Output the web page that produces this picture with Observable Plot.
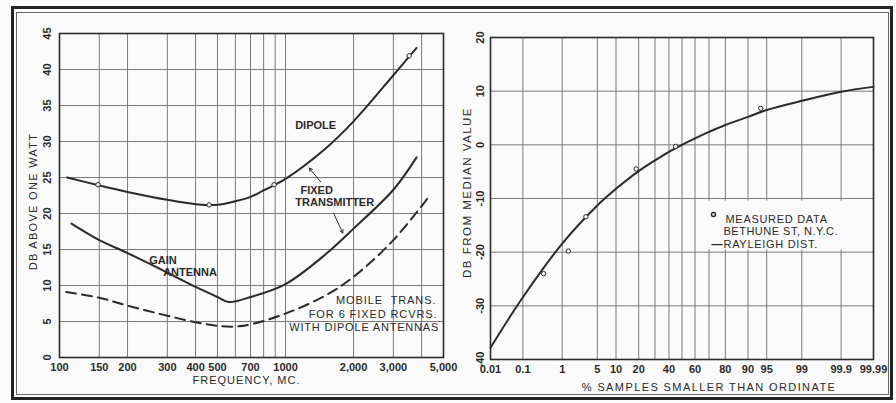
<!DOCTYPE html>
<html><head><meta charset="utf-8">
<script src="https://cdn.jsdelivr.net/npm/d3@7"></script>
<script src="https://cdn.jsdelivr.net/npm/@observablehq/plot@0.6"></script>
<style>
body{margin:0;background:#fff;}
#wrap{position:relative;width:896px;height:403px;background:#fafafa;overflow:hidden;}
.panel{position:absolute;top:0;}
#outer{position:absolute;left:11px;top:6px;width:876px;height:388px;border:3px solid #222;}
#inner{position:absolute;left:16px;top:12px;width:871px;height:381px;border:1px solid #666;}
</style></head><body>
<div id="wrap"><div id="outer"></div><div id="inner"></div>
<div id="left" class="panel" style="left:0"></div>
<div id="right" class="panel" style="left:455px"></div></div>
<script>
// ---------- Left panel data ----------
const freqTicks = [100,150,200,300,400,500,700,1000,2000,3000,5000];
const freqTickLabels = ["100","150","200","300","400","500","700","1000","2,000","3,000","5,000"];
const freqGrid = [150,200,300,400,500,600,700,800,900,1000,2000,3000,4000];
const dbTicks = [0,5,10,15,20,25,30,35,40,45];

const dipoleFreq = [108,150,200,300,400,500,600,700,800,900,1000,1500,2000,3000,3800];
const dipoleDb   = [25,23.9,23,21.9,21.3,21.2,21.7,22.3,23.2,24,24.8,29,32.8,39.2,43];
const dipolePtFreq = [148,459,890,3524];
const dipolePtDb   = [24,21.2,24,41.9];

const gainFreq = [113,150,200,300,400,500,560,700,1000,1500,2000,3000,3800];
const gainDb   = [18.6,16.3,14.5,11.8,9.8,8.4,7.7,8.4,10.2,14.3,17.9,23.3,27.8];

const mobileFreq = [107,150,200,300,400,500,600,700,1000,1500,2000,3000,4300];
const mobileDb   = [9.1,8.3,7.2,5.8,4.9,4.4,4.3,4.6,6.1,8.6,11.2,16.3,22.3];

// ---------- Right panel data ----------
const pctTicks = [0.01,0.1,1,5,10,20,40,60,80,90,95,99,99.9,99.99];
const pctTickLabels = ["0.01","0.1","1","5","10","20","40","60","80","90","95","99","99.9","99.99"];
const pctGrid = [0.01,0.1,1,5,10,20,30,40,50,60,70,80,90,95,99,99.9,99.99];
const medTicks = [20,10,0,-10,-20,-30,-40];

const rayPct = [0.01,0.1,1,5,10,20,30,40,50,60,70,80,90,95,99,99.9,99.99];
const rayDb  = [-37.8,-28.4,-18.4,-11.3,-8.2,-4.9,-2.9,-1.3,0,1.2,2.4,3.7,5.2,6.5,8.2,9.9,10.8];
const measPct = [0.36,1.36,3.1,18.7,45,93.7];
const measDb  = [-24,-19.8,-13.4,-4.5,-0.3,6.8];

// inverse of the standard normal CDF (probability-paper axis)
function probit(p){
  const a=[-3.969683028665376e+01,2.209460984245205e+02,-2.759285104469687e+02,1.383577518672690e+02,-3.066479806614716e+01,2.506628277459239e+00];
  const b=[-5.447609879822406e+01,1.615858368580409e+02,-1.556989798598866e+02,6.680131188771972e+01,-1.328068155288572e+01];
  const c=[-7.784894002430293e-03,-3.223964580411365e-01,-2.400758277161838e+00,-2.549732539343734e+00,4.374664141464968e+00,2.938163982698783e+00];
  const d=[7.784695709041462e-03,3.224671290700398e-01,2.445134137142996e+00,3.754408661907416e+00];
  const pl=0.02425, ph=1-pl; let q,r;
  if(p<pl){q=Math.sqrt(-2*Math.log(p));return (((((c[0]*q+c[1])*q+c[2])*q+c[3])*q+c[4])*q+c[5])/((((d[0]*q+d[1])*q+d[2])*q+d[3])*q+1);}
  if(p<=ph){q=p-0.5;r=q*q;return (((((a[0]*r+a[1])*r+a[2])*r+a[3])*r+a[4])*r+a[5])*q/(((((b[0]*r+b[1])*r+b[2])*r+b[3])*r+b[4])*r+1);}
  q=Math.sqrt(-2*Math.log(1-p));return -(((((c[0]*q+c[1])*q+c[2])*q+c[3])*q+c[4])*q+c[5])/((((d[0]*q+d[1])*q+d[2])*q+d[3])*q+1);
}
const pz = pct => probit(pct/100);

const ink = "#2a2a2a", gridC = "#7a7a7a";
const font = "Liberation Sans";

// letter-spacing for hand-lettered titles/notes
function spaceOut(svg, spec){
  d3.select(svg).selectAll("text").each(function(){
    const s = spec[this.textContent];
    if (s !== undefined) this.setAttribute("letter-spacing", s);
  });
}

// ---------- Left panel ----------
const dipole = dipoleFreq.map((f,i)=>({f, db: dipoleDb[i]}));
const dipolePts = dipolePtFreq.map((f,i)=>({f, db: dipolePtDb[i]}));
const gain = gainFreq.map((f,i)=>({f, db: gainDb[i]}));
const mobile = mobileFreq.map((f,i)=>({f, db: mobileDb[i]}));
const freqLabel = new Map(freqTicks.map((t,i)=>[t, freqTickLabels[i]]));

const curveNotes = [
  {f:1359, db:32.2, t:"DIPOLE"},
  {f:1373, db:23.2, t:"FIXED"},
  {f:1651, db:21.5, t:"TRANSMITTER"},
  {f:287, db:13.5, t:"GAIN"},
  {f:378, db:11.8, t:"ANTENNA"}
];
const mobileNotes = [
  {f:4650, db:7.9, t:"MOBILE  TRANS."},
  {f:4700, db:6.0, t:"FOR 6 FIXED RCVRS."},
  {f:4780, db:4.2, t:"WITH DIPOLE ANTENNAS"}
];
const leftArrows = [
  {f1:1430, d1:24.4, f2:1275, d2:26.3},
  {f1:1634, d1:20.0, f2:1792, d2:17.3}
];

const left = Plot.plot({
  width: 475, height: 403,
  marginLeft: 59, marginRight: 32, marginTop: 33, marginBottom: 46,
  style: {background: "transparent", fontFamily: font, fontSize: "11px", color: ink, overflow: "visible"},
  x: {type: "log", domain: [100, 5000], axis: null},
  y: {domain: [0, 45], axis: null},
  marks: [
    Plot.ruleX(freqGrid, {stroke: gridC, strokeWidth: 1}),
    Plot.ruleY(dbTicks, {stroke: gridC, strokeWidth: 1}),
    Plot.frame({stroke: ink, strokeWidth: 1.6}),
    Plot.line(mobile, {x: "f", y: "db", stroke: ink, strokeWidth: 2, strokeDasharray: "10,6", curve: "catmull-rom"}),
    Plot.line(gain, {x: "f", y: "db", stroke: ink, strokeWidth: 2, curve: "catmull-rom"}),
    Plot.line(dipole, {x: "f", y: "db", stroke: ink, strokeWidth: 2, curve: "catmull-rom"}),
    Plot.dot(dipolePts, {x: "f", y: "db", r: 2.2, fill: "#fafafa", stroke: ink, strokeWidth: 1}),
    Plot.arrow(leftArrows, {x1: "f1", y1: "d1", x2: "f2", y2: "d2", stroke: ink, strokeWidth: 1, headLength: 5}),
    Plot.text(curveNotes, {x: "f", y: "db", text: "t", textAnchor: "middle", fill: ink, fontSize: 11, fontWeight: "bold"}),
    Plot.text(mobileNotes, {x: "f", y: "db", text: "t", textAnchor: "end", fill: ink, fontSize: 11}),
    Plot.axisX({ticks: freqTicks, tickFormat: d => freqLabel.get(d), tickSize: 0, tickPadding: 6, fontSize: 11, fontWeight: "bold", label: null, fill: ink}),
    Plot.text(dbTicks, {y: d => d, text: d => String(d), frameAnchor: "left", textAnchor: "middle", dx: -12, rotate: -90, fontSize: 11, fontWeight: "bold", fill: ink}),
    Plot.text(["DB ABOVE ONE WATT"], {frameAnchor: "left", textAnchor: "middle", dx: -26, dy: 6, rotate: -90, fontSize: 11, fill: ink}),
    Plot.text(["FREQUENCY, MC."], {frameAnchor: "bottom", textAnchor: "middle", dx: -5, dy: 26, fontSize: 11, fill: ink})
  ]
});
spaceOut(left, {"DB ABOVE ONE WATT": 1.3, "FREQUENCY, MC.": 1, "MOBILE  TRANS.": 0.9, "FOR 6 FIXED RCVRS.": 0.9, "WITH DIPOLE ANTENNAS": 0.8});
document.getElementById("left").appendChild(left);

// ---------- Right panel ----------
const ray = rayPct.map((p,i)=>({z: pz(p), db: rayDb[i]}));
const meas = measPct.map((p,i)=>({z: pz(p), db: measDb[i]}));
const zTicks = pctTicks.map(pz);
const zLabel = new Map(zTicks.map((z,i)=>[z, pctTickLabels[i]]));
const legendBox = [{x1: pz(68), x2: pz(99.93), y1: -10.5, y2: -19.6}];

const right = Plot.plot({
  width: 441, height: 403,
  marginLeft: 35, marginRight: 23, marginTop: 37, marginBottom: 44,
  style: {background: "transparent", fontFamily: font, fontSize: "11px", color: ink},
  x: {type: "linear", domain: [pz(0.01), pz(99.99)], axis: null},
  y: {domain: [-40, 20], axis: null},
  marks: [
    Plot.ruleX(pctGrid.map(pz), {stroke: gridC, strokeWidth: 1}),
    Plot.ruleY(medTicks, {stroke: gridC, strokeWidth: 1}),
    Plot.rect(legendBox, {x1: "x1", x2: "x2", y1: "y1", y2: "y2", fill: "#fafafa"}),
    Plot.frame({stroke: ink, strokeWidth: 1.6}),
    Plot.line(ray, {x: "z", y: "db", stroke: ink, strokeWidth: 2, curve: "catmull-rom"}),
    Plot.dot(meas, {x: "z", y: "db", r: 2.2, fill: "#fafafa", stroke: ink, strokeWidth: 1}),
    // legend
    Plot.dot([0], {frameAnchor: "top-right", dx: -160, dy: 177, r: 2, fill: "#fafafa", stroke: ink}),
    Plot.text(["MEASURED DATA"], {frameAnchor: "top-right", dx: -148, dy: 178, textAnchor: "start", fontSize: 11, fill: ink}),
    Plot.text(["BETHUNE ST, N.Y.C."], {frameAnchor: "top-right", dx: -150, dy: 190, textAnchor: "start", fontSize: 11, fill: ink}),
    Plot.text(["RAYLEIGH DIST."], {frameAnchor: "top-right", dx: -150, dy: 203, textAnchor: "start", fontSize: 11, fill: ink}),
    Plot.text(["—"], {frameAnchor: "top-right", dx: -151, dy: 203, textAnchor: "end", fontSize: 11, fontWeight: "bold", fill: ink}),
    Plot.axisX({ticks: zTicks, tickFormat: d => zLabel.get(d), tickSize: 0, tickPadding: 6, fontSize: 11, fontWeight: "bold", label: null, fill: ink}),
    Plot.text(medTicks, {y: d => d, text: d => String(d), frameAnchor: "left", textAnchor: "middle", dx: -10, rotate: -90, fontSize: 11, fontWeight: "bold", fill: ink}),
    Plot.text(["DB FROM MEDIAN VALUE"], {frameAnchor: "left", textAnchor: "middle", dx: -23, dy: -6, rotate: -90, fontSize: 11.5, fill: ink}),
    Plot.text(["% SAMPLES SMALLER THAN ORDINATE"], {frameAnchor: "bottom", textAnchor: "middle", dx: 27, dy: 31, fontSize: 11, fill: ink})
  ]
});
spaceOut(right, {"DB FROM MEDIAN VALUE": 1.5, "% SAMPLES SMALLER THAN ORDINATE": 1.4, "MEASURED DATA": 0.7, "BETHUNE ST, N.Y.C.": 0.5, "RAYLEIGH DIST.": 0.7});
document.getElementById("right").appendChild(right);
</script>
</body></html>
